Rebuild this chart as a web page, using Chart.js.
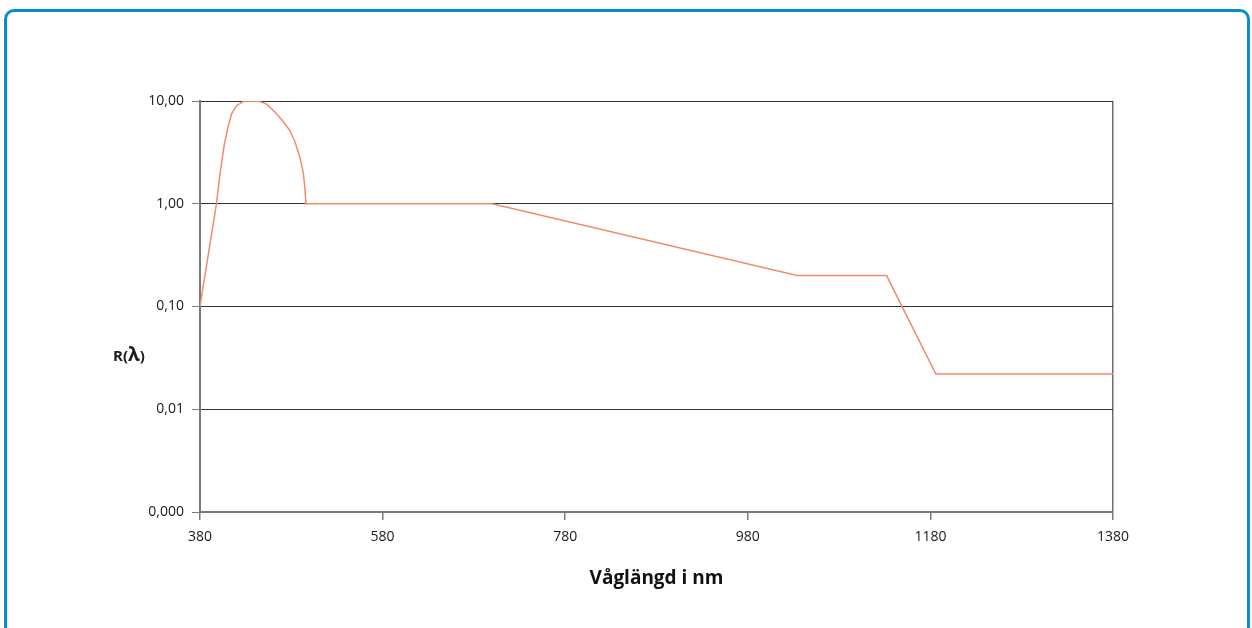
<!DOCTYPE html>
<html>
<head>
<meta charset="utf-8">
<script src="https://cdn.jsdelivr.net/npm/chart.js@4.4.1/dist/chart.umd.min.js"></script>
<style>
  html, body { margin: 0; padding: 0; background: #ffffff; }
  #wrap { position: relative; width: 1252px; height: 628px; overflow: hidden; }
  #frame {
    position: absolute; left: 4px; top: 9px; width: 1240px; height: 640px;
    border: 3px solid #0b8dcc; border-radius: 10px; box-sizing: content-box;
    pointer-events: none;
  }
  canvas { position: absolute; left: 0; top: 0; }
</style>
</head>
<body>
<div id="wrap">
  <canvas id="chart" width="1252" height="628"></canvas>
  <div id="frame"></div>
</div>
<script>
// Spectral response R(λ) against wavelength in nm
const wavelengths = [380, 398, 402, 406.5, 411, 414.7, 420, 427.4, 434.8, 445.7, 453, 462, 471, 478.6, 484, 489.5, 493.2, 495, 496, 700, 1034, 1132, 1186, 1380];
const responses   = [0.10, 1.00, 1.98, 3.74, 5.70, 7.55, 9.00, 9.87, 10.0, 9.87, 9.33, 7.83, 6.34, 5.13, 4.01, 2.82, 1.98, 1.39, 1.00, 1.00, 0.20, 0.20, 0.022, 0.022];

const xTickValues = [380, 580, 780, 980, 1180, 1380];
const yTickValues = [0.001, 0.01, 0.1, 1, 10];
const yTickLabels = ['0,000', '0,01', '0,10', '1,00', '10,00'];

const xTitle = 'Våglängd i nm';
const yTitleParts = ['R(', 'λ', ')'];

const FONT = "'Open Sans', 'Noto Sans', sans-serif";

// Horizontal y-axis caption beside the axis
const yCaption = {
  id: 'yCaption',
  afterDraw(chart) {
    const ctx = chart.ctx;
    const sizes = [15, 19, 15];
    ctx.save();
    ctx.fillStyle = '#1a1a1a';
    ctx.textBaseline = 'alphabetic';
    const widths = yTitleParts.map((t, i) => { ctx.font = `bold ${sizes[i]}px ${FONT}`; return ctx.measureText(t).width; });
    const total = widths.reduce((a, b) => a + b, 0);
    let x = 129 - total / 2;
    const base = 361;
    yTitleParts.forEach((t, i) => {
      ctx.font = `bold ${sizes[i]}px ${FONT}`;
      ctx.fillText(t, x, base);
      x += widths[i];
    });
    ctx.restore();
  }
};

new Chart(document.getElementById('chart'), {
  type: 'line',
  data: {
    datasets: [{
      data: wavelengths.map((w, i) => ({ x: w, y: responses[i] })),
      borderColor: '#f28a6e',
      borderWidth: 1.5,
      pointRadius: 0,
      tension: 0,
      fill: false
    }]
  },
  options: {
    responsive: false,
    animation: false,
    devicePixelRatio: 1,
    layout: { padding: { top: 101, right: 139, bottom: 0, left: 0 } },
    plugins: { legend: { display: false }, tooltip: { enabled: false } },
    scales: {
      x: {
        type: 'linear',
        min: 380, max: 1380,
        afterBuildTicks: s => { s.ticks = xTickValues.map(v => ({ value: v })); },
        afterFit: s => { s.height = 116; },
        grid: {
          drawOnChartArea: true,
          color: c => (c.tick && c.tick.value === xTickValues[xTickValues.length - 1]) ? '#6e6e6e' : 'rgba(0,0,0,0)',
          tickColor: '#7a7a7a',
          tickLength: 8,
          lineWidth: 1.5
        },
        border: { display: true, color: '#7a7a7a', width: 2 },
        ticks: {
          callback: v => String(v),
          color: '#1a1a1a',
          font: { family: FONT, size: 14 },
          padding: 9,
          maxRotation: 0
        },
        title: {
          display: true,
          text: xTitle,
          color: '#111111',
          font: { family: FONT, size: 19, weight: 'bold' },
          padding: { top: 0, bottom: 38 }
        }
      },
      y: {
        type: 'logarithmic',
        min: 0.001, max: 10,
        afterBuildTicks: s => { s.ticks = yTickValues.map(v => ({ value: v })); },
        afterFit: s => { s.width = 200; },
        grid: {
          color: '#333333',
          tickColor: '#7a7a7a',
          tickLength: 8,
          lineWidth: 1
        },
        border: { display: true, color: '#7a7a7a', width: 2 },
        ticks: {
          callback: v => { const i = yTickValues.indexOf(v); return i >= 0 ? yTickLabels[i] : ''; },
          color: '#1a1a1a',
          font: { family: FONT, size: 14 },
          padding: 8
        }
      }
    }
  },
  plugins: [yCaption]
});
</script>
</body>
</html>
